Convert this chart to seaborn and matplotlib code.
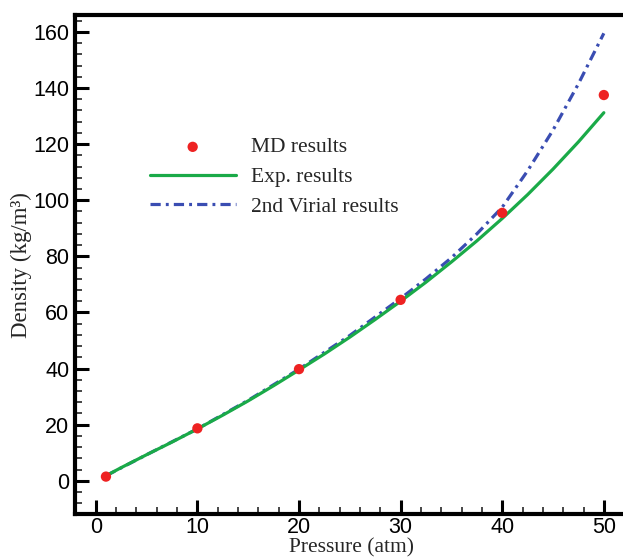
import matplotlib
matplotlib.use("Agg")
import matplotlib.pyplot as plt
from matplotlib.ticker import MultipleLocator
import pandas as pd
import seaborn as sns

# MD simulation points
md_pressure = [1, 10, 20, 30, 40, 50]
md_density = [1.5, 18.7, 39.8, 64.5, 95.5, 137.5]

exp_pressure = [1, 2.5, 5, 7.5, 10, 12.5, 15, 17.5, 20, 22.5, 25, 27.5, 30,
                32.5, 35, 37.5, 40, 42.5, 45, 47.5, 50]
exp_density = [1.8, 4.7, 9.3, 13.8, 18.5, 23.4, 28.5, 33.9, 39.5, 45.2, 51.2,
               57.5, 64.0, 70.8, 78.0, 85.5, 93.5, 102.0, 111.1, 120.8, 131.2]

# 2nd virial curve
vir_pressure = [1, 5, 10, 15, 20, 25, 30, 32.5, 35, 37.5, 40, 42.5, 45, 47.5, 50]
vir_density = [1.8, 9.3, 18.5, 28.7, 39.8, 51.8, 65.0, 72.0, 79.5, 88.0, 97.5,
               110.5, 125.0, 141.5, 159.5]

sns.set_style("ticks")
plt.rcParams['font.family'] = ['Liberation Sans', 'DejaVu Sans']

fig = plt.figure(figsize=(6.23, 5.58), dpi=100)
ax = fig.add_axes([0.12, 0.078, 0.89, 0.895])

md = pd.DataFrame({"p": md_pressure, "rho": md_density})
ex = pd.DataFrame({"p": exp_pressure, "rho": exp_density})
vr = pd.DataFrame({"p": vir_pressure, "rho": vir_density})

sns.lineplot(data=ex, x="p", y="rho", ax=ax, color="#1aaa48", lw=2.3,
             label="Exp. results", zorder=3)
sns.lineplot(data=vr, x="p", y="rho", ax=ax, color="#3a4db2", lw=2.3,
             label="2nd Virial results", zorder=2)
ax.lines[-1].set_linestyle((0, (3.2, 1.6, 0.9, 1.6)))
sns.scatterplot(data=md, x="p", y="rho", ax=ax, color="#ee2222", s=55,
                edgecolor="none", label="MD results", zorder=4)

ax.set_xlim(-2.07, 52.5)
ax.set_ylim(-12, 166)
ax.xaxis.set_major_locator(MultipleLocator(10))
ax.xaxis.set_minor_locator(MultipleLocator(2))
ax.yaxis.set_major_locator(MultipleLocator(20))
ax.yaxis.set_minor_locator(MultipleLocator(4))
ax.tick_params(which="major", direction="in", length=10, width=2.2,
               labelsize=15.5, colors="black", pad=4)
ax.tick_params(axis="x", which="major", pad=1.5)
ax.tick_params(which="minor", direction="in", length=5, width=1.2)
ax.tick_params(top=False, right=False, which="both")
for s in ax.spines.values():
    s.set_linewidth(3)
    s.set_color("black")

serif = ['Liberation Serif', 'DejaVu Serif']
ax.set_xlabel("Pressure (atm)", family=serif, fontsize=15.5)
ax.xaxis.set_label_coords(0.5, -0.047)
ax.xaxis.label.set_va("top")
ax.set_ylabel("Density (kg/m³)", family=serif, fontsize=16.5)
ax.yaxis.set_label_coords(-0.077, 0.5)

h, l = ax.get_legend_handles_labels()
order = [2, 0, 1]
ax.legend([h[i] for i in order], [l[i] for i in order], loc="upper left",
          bbox_to_anchor=(0.135, 0.755), frameon=False, borderpad=0,
          borderaxespad=0, handlelength=4.0, handletextpad=0.7,
          labelspacing=0.45, prop={"family": serif, "size": 15.5})

fig.savefig("out.png", dpi=100)
